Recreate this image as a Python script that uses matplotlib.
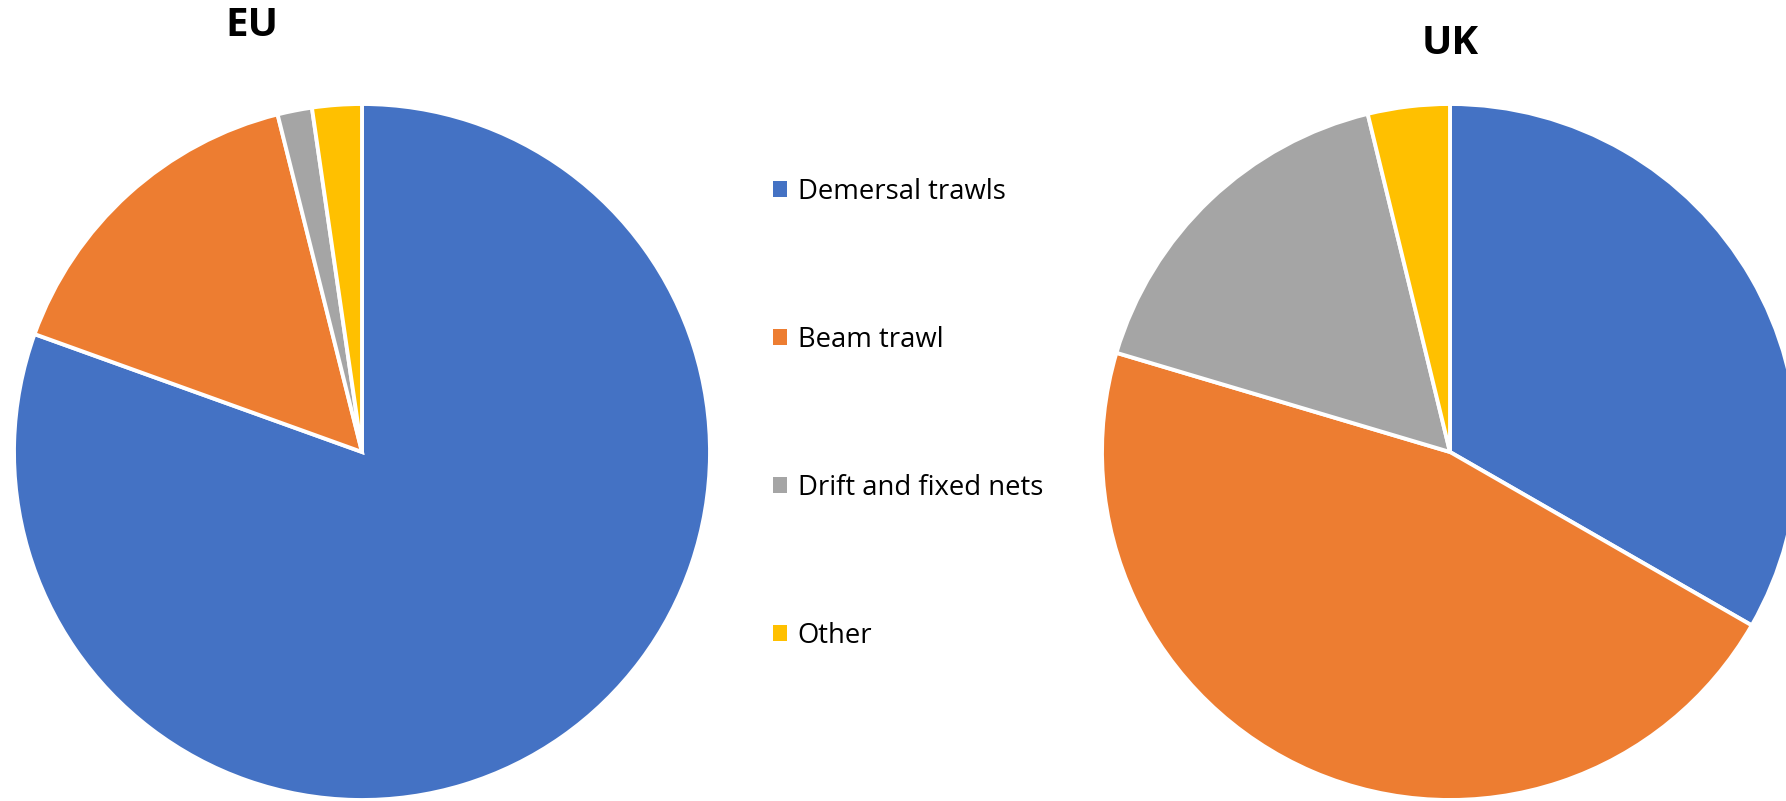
import matplotlib
matplotlib.use("Agg")
import matplotlib.pyplot as plt
from matplotlib.patches import Patch

# Share of landings by gear type
categories = ["Demersal trawls", "Beam trawl", "Drift and fixed nets", "Other"]
eu_share = [80.5, 15.6, 1.6, 2.3]
uk_share = [33.3, 46.3, 16.6, 3.8]
colors = ["#4472C4", "#ED7D31", "#A5A5A5", "#FFC000"]

W, H = 1786, 801
fig = plt.figure(figsize=(W / 100, H / 100), dpi=100)
fig.patch.set_facecolor("white")


def pie_axes(cx, cy, r):
    # axes box in figure fractions from a centre and radius in pixels (y from top)
    return fig.add_axes([(cx - r) / W, (H - cy - r) / H, 2 * r / W, 2 * r / H])


def draw_pie(ax, values):
    ax.pie(values, colors=colors, startangle=90, counterclock=False,
           wedgeprops=dict(edgecolor="white", linewidth=2.8))
    ax.set_xlim(-1.0, 1.0)
    ax.set_ylim(-1.0, 1.0)
    ax.set_aspect("equal")
    ax.axis("off")


ax_eu = pie_axes(362, 452, 348)
draw_pie(ax_eu, eu_share)
ax_uk = pie_axes(1450, 452, 348)
draw_pie(ax_uk, uk_share)

title_font = dict(family=["Open Sans", "DejaVu Sans"], fontsize=29, fontweight="bold")
fig.text(252 / W, 1 - 26 / H, "EU", ha="center", va="center", **title_font)
fig.text(1450 / W, 1 - 43 / H, "UK", ha="center", va="center", **title_font)

handles = [Patch(facecolor=c, edgecolor="none") for c in colors]
fig.legend(handles, categories, loc="upper left",
           bbox_to_anchor=(773 / W, 1 - 178 / H),
           frameon=False, borderpad=0, borderaxespad=0,
           prop=dict(family="Open Sans", size=19.8),
           handlelength=0.5, handleheight=0.5, handletextpad=0.4,
           labelspacing=4.36)

fig.savefig("out.png", dpi=100, facecolor="white")
